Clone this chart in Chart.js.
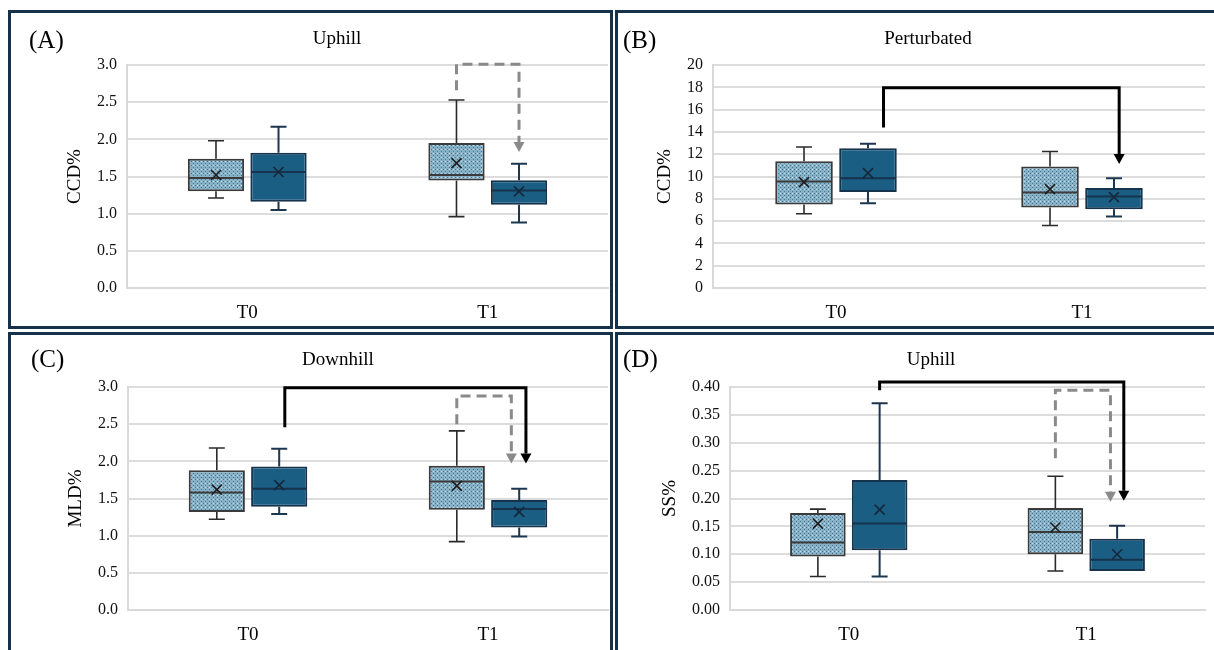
<!DOCTYPE html>
<html>
<head>
<meta charset="utf-8">
<script src="https://cdn.jsdelivr.net/npm/chart.js@4.4.1/dist/chart.umd.min.js"></script>
<style>
  html, body { margin: 0; padding: 0; background: #fff; }
  body { width: 1214px; height: 650px; overflow: hidden; position: relative;
         font-family: 'Liberation Serif', 'Times New Roman', serif; }
  .panel { position: absolute; box-sizing: border-box; border: 3px solid #16324a; overflow: hidden; }
  .panel canvas { position: absolute; left: 0; top: 0; }
  .tag { position: absolute; font-size: 25px; line-height: 25px; color: #000; }
  .ttl { position: absolute; font-size: 19px; line-height: 19px; color: #000;
         transform: translateX(-50%); white-space: nowrap; }
</style>
</head>
<body>
<div class="panel" style="left:8px;top:10px;width:605px;height:319px"><canvas id="cA" width="599" height="313"></canvas></div>
<div class="panel" style="left:615px;top:10px;width:610px;height:319px"><canvas id="cB" width="596" height="313"></canvas></div>
<div class="panel" style="left:8px;top:332px;width:605px;height:330px"><canvas id="cC" width="599" height="315"></canvas></div>
<div class="panel" style="left:615px;top:332px;width:610px;height:330px"><canvas id="cD" width="596" height="315"></canvas></div>

<div class="tag" style="left:29px;top:27px">(A)</div>
<div class="tag" style="left:623px;top:27px">(B)</div>
<div class="tag" style="left:31px;top:346px">(C)</div>
<div class="tag" style="left:623px;top:346px">(D)</div>
<div class="ttl" style="left:337px;top:28px">Uphill</div>
<div class="ttl" style="left:928px;top:28px">Perturbated</div>
<div class="ttl" style="left:338px;top:349px">Downhill</div>
<div class="ttl" style="left:931px;top:349px">Uphill</div>

<script>
const categories = ['T0', 'T1'];

// each group: [min, q1, median, q3, max, mean]
const ccdUphillLight = [[1.21, 1.30, 1.48, 1.74, 1.98, 1.52], [0.96, 1.445, 1.52, 1.95, 2.53, 1.68]];
const ccdUphillDark  = [[1.05, 1.16, 1.56, 1.82, 2.17, 1.56], [0.88, 1.12, 1.31, 1.45, 1.67, 1.30]];

const ccdPertLight = [[6.66, 7.49, 9.55, 11.37, 12.65, 9.5], [5.6, 7.22, 8.57, 10.9, 12.24, 8.87]];
const ccdPertDark  = [[7.6, 8.6, 9.85, 12.54, 12.93, 10.3], [6.42, 7.07, 8.2, 8.96, 9.85, 8.15]];

const mldDownLight = [[1.22, 1.32, 1.58, 1.88, 2.18, 1.62], [0.92, 1.35, 1.73, 1.94, 2.41, 1.67]];
const mldDownDark  = [[1.29, 1.39, 1.63, 1.93, 2.17, 1.68], [0.99, 1.11, 1.36, 1.48, 1.63, 1.32]];

const ssUphillLight = [[0.06, 0.096, 0.121, 0.174, 0.181, 0.155], [0.07, 0.10, 0.14, 0.183, 0.24, 0.148]];
const ssUphillDark  = [[0.06, 0.107, 0.155, 0.233, 0.371, 0.18], [0.07, 0.07, 0.09, 0.128, 0.151, 0.10]];

const ticksA = { min: 0, max: 3, step: 0.5, digits: 1 };
const ticksB = { min: 0, max: 20, step: 2, digits: 0 };
const ticksD = { min: 0, max: 0.4, step: 0.05, digits: 2 };

const FONT = "'Liberation Serif', 'Times New Roman', serif";

function dotPattern() {
  const c = document.createElement('canvas');
  c.width = 4; c.height = 4;
  const g = c.getContext('2d');
  g.fillStyle = '#89b1c6'; g.fillRect(0, 0, 4, 4);
  g.fillStyle = '#3a7699'; g.fillRect(0, 0, 1, 1); g.fillRect(2, 2, 1, 1);
  g.fillStyle = '#c9dde8'; g.fillRect(2, 0, 1, 1);
  return g.createPattern(c, 'repeat');
}

// whiskers, medians and mean markers on top of the floating bars
const boxPlot = {
  id: 'boxPlot',
  afterDatasetsDraw(chart) {
    const ctx = chart.ctx, ys = chart.scales.y;
    chart.data.datasets.forEach((ds, di) => {
      chart.getDatasetMeta(di).data.forEach((bar, i) => {
        const [mn, q1, md, q3, mx, mean] = ds.stats[i];
        const x = bar.x, half = bar.width / 2, cap = 8;
        ctx.save();
        ctx.strokeStyle = ds.whiskerColor;
        ctx.lineWidth = ds.whiskerWidth;
        ctx.beginPath();
        ctx.moveTo(x, ys.getPixelForValue(q3)); ctx.lineTo(x, ys.getPixelForValue(mx));
        ctx.moveTo(x - cap, ys.getPixelForValue(mx)); ctx.lineTo(x + cap, ys.getPixelForValue(mx));
        if (mn < q1) {
          ctx.moveTo(x, ys.getPixelForValue(q1)); ctx.lineTo(x, ys.getPixelForValue(mn));
          ctx.moveTo(x - cap, ys.getPixelForValue(mn)); ctx.lineTo(x + cap, ys.getPixelForValue(mn));
        }
        ctx.stroke();
        ctx.strokeStyle = ds.borderColor;
        ctx.lineWidth = 2;
        ctx.beginPath();
        ctx.moveTo(x - half + 1, ys.getPixelForValue(md)); ctx.lineTo(x + half - 1, ys.getPixelForValue(md));
        ctx.stroke();
        const my = ys.getPixelForValue(mean), r = 5;
        ctx.strokeStyle = ds.meanColor;
        ctx.lineWidth = 1.6;
        ctx.beginPath();
        ctx.moveTo(x - r, my - r); ctx.lineTo(x + r, my + r);
        ctx.moveTo(x + r, my - r); ctx.lineTo(x - r, my + r);
        ctx.stroke();
        ctx.restore();
      });
    });
  }
};

// significance brackets with arrow heads
const brackets = {
  id: 'brackets',
  afterDraw(chart) {
    const list = chart.options.plugins.brackets.items || [];
    const ctx = chart.ctx, ys = chart.scales.y;
    list.forEach(b => {
      const barA = chart.getDatasetMeta(b.from[1]).data[b.from[0]];
      const barB = chart.getDatasetMeta(b.to[1]).data[b.to[0]];
      const x0 = barA.x + b.fromOff * barA.width;
      const x1 = barB.x + b.toOff * barB.width;
      const yTop = ys.getPixelForValue(b.top);
      const yTip = ys.getPixelForValue(b.tip);
      const col = b.dashed ? '#8a8a8a' : '#000';
      const head = 10;
      ctx.save();
      ctx.strokeStyle = col;
      ctx.lineWidth = 3;
      ctx.lineJoin = 'miter';
      if (b.dashed) ctx.setLineDash([10, 6]);
      ctx.beginPath();
      ctx.moveTo(x0, ys.getPixelForValue(b.start));
      ctx.lineTo(x0, yTop);
      ctx.lineTo(x1, yTop);
      ctx.lineTo(x1, yTip - head);
      ctx.stroke();
      ctx.setLineDash([]);
      ctx.fillStyle = col;
      ctx.beginPath();
      ctx.moveTo(x1 - 5.5, yTip - head);
      ctx.lineTo(x1 + 5.5, yTip - head);
      ctx.lineTo(x1, yTip);
      ctx.closePath();
      ctx.fill();
      ctx.restore();
    });
  }
};

function makePanel(id, light, dark, t, yTitle, lay, bracketItems) {
  const pattern = dotPattern();
  return new Chart(document.getElementById(id), {
    type: 'bar',
    data: {
      labels: categories,
      datasets: [
        { label: 'light', data: light.map(s => [s[1], s[3]]), stats: light,
          backgroundColor: pattern, borderColor: '#3a3a3a', borderWidth: 2, borderSkipped: false,
          whiskerColor: '#2a2a2a', whiskerWidth: 1.6, meanColor: '#1e1e1e' },
        { label: 'dark', data: dark.map(s => [s[1], s[3]]), stats: dark,
          backgroundColor: '#1b5e84', borderColor: '#17324c', borderWidth: 2, borderSkipped: false,
          whiskerColor: '#1c3650', whiskerWidth: 2, meanColor: '#15283b' }
      ]
    },
    options: {
      responsive: false, animation: false,
      categoryPercentage: 0.52, barPercentage: 0.9,
      layout: { padding: { top: 52, right: lay.right, left: 0, bottom: 0 } },
      plugins: { legend: { display: false }, tooltip: { enabled: false }, brackets: { items: bracketItems } },
      scales: {
        x: {
          grid: { display: false, drawTicks: false },
          border: { display: true, color: '#d9d9d9', width: 2 },
          ticks: { color: '#000', font: { family: FONT, size: 19 }, padding: 14 },
          afterFit: s => { s.height = lay.xh; }
        },
        y: {
          min: t.min, max: t.max,
          grid: { color: '#dcdcdc', lineWidth: 2, drawTicks: false },
          border: { display: true, color: '#d9d9d9', width: 2 },
          ticks: { stepSize: t.step, color: '#111', font: { family: FONT, size: 16 }, padding: 10,
                   callback: v => Number(v).toFixed(t.digits) },
          title: { display: true, text: yTitle, color: '#000', font: { family: FONT, size: 19 },
                   padding: { top: lay.tp, bottom: 0 } },
          afterFit: s => { s.width = lay.yw; }
        }
      }
    },
    plugins: [boxPlot, brackets]
  });
}

Chart.defaults.font.family = FONT;

makePanel('cA', ccdUphillLight, ccdUphillDark, ticksA, 'CCD%',
  { right: 2, xh: 38, yw: 116, tp: 53 },
  [{ from: [1, 0], to: [1, 1], fromOff: 0, toOff: 0, start: 2.66, top: 3.01, tip: 1.83, dashed: true }]);

makePanel('cB', ccdPertLight, ccdPertDark, ticksB, 'CCD%',
  { right: 9, xh: 38, yw: 95, tp: 36 },
  [{ from: [0, 1], to: [1, 1], fromOff: 0.27, toOff: 0.09, start: 14.4, top: 17.97, tip: 11.13, dashed: false }]);

makePanel('cC', mldDownLight, mldDownDark, ticksA, 'MLD%',
  { right: 2, xh: 40, yw: 117, tp: 54 },
  [{ from: [0, 1], to: [1, 1], fromOff: 0.1, toOff: 0.12, start: 2.46, top: 2.99, tip: 1.97, dashed: false },
   { from: [1, 0], to: [1, 1], fromOff: 0, toOff: -0.14, start: 2.5, top: 2.88, tip: 1.97, dashed: true }]);

makePanel('cD', ssUphillLight, ssUphillDark, ticksD, 'SS%',
  { right: 9, xh: 40, yw: 112, tp: 41 },
  [{ from: [0, 1], to: [1, 1], fromOff: 0, toOff: 0.12, start: 0.394, top: 0.409, tip: 0.196, dashed: false },
   { from: [1, 0], to: [1, 1], fromOff: 0, toOff: -0.12, start: 0.272, top: 0.394, tip: 0.194, dashed: true }]);
</script>
</body>
</html>
